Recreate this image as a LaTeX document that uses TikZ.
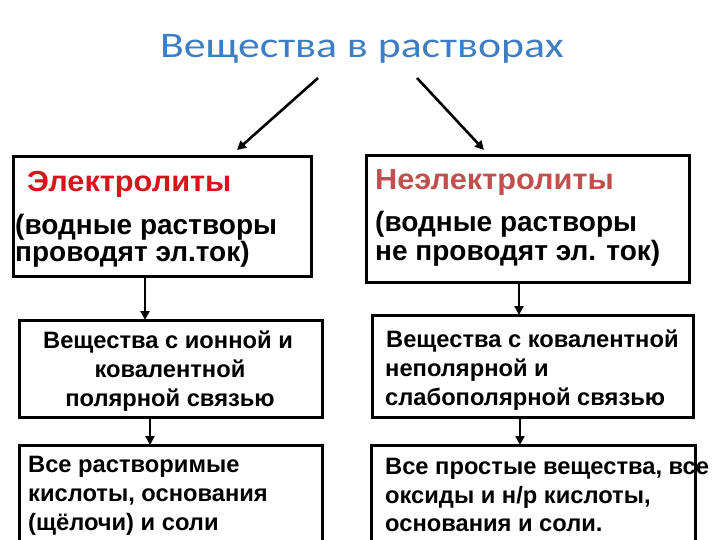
\documentclass[tikz,border=0pt]{standalone}
\usepackage{fontspec}
\setmainfont{Liberation Sans}
\newfontfamily\titlefont{Carlito}
\usetikzlibrary{arrows.meta}
\definecolor{titleblue}{HTML}{3C7DC4}
\definecolor{elred}{HTML}{D7141C}
\definecolor{nered}{HTML}{C0504D}
\tikzset{
  box/.style={draw=black, line width=3pt, inner sep=0pt, outer sep=0pt, fill=none},
  arr/.style={draw=black, line width=2.6pt, -{Triangle[length=9pt,width=9pt]}},
  head/.style={anchor=base west, inner sep=0pt, font=\bfseries\fontsize{29}{32}\selectfont},
  btxt/.style={anchor=base west, inner sep=0pt, font=\bfseries\fontsize{28}{30}\selectfont},
  txt/.style={anchor=base west, inner sep=0pt, font=\bfseries\fontsize{23.7}{28}\selectfont},
  ctxt/.style={anchor=base, inner sep=0pt, font=\bfseries\fontsize{23.7}{28}\selectfont}
}
\begin{document}
\begin{tikzpicture}[x=1pt,y=-1pt]
\useasboundingbox (0,0) rectangle (720,540);
% title
\node[anchor=base, inner sep=0pt, text=titleblue, font=\titlefont\fontsize{36}{40}\selectfont] (title) at (362,58) {\scalebox{1.215}[1]{Вещества в растворах}};
% boxes
\node[box, minimum width=298pt, minimum height=119pt] (b1) at (162,216.5) {};
\node[box, minimum width=323pt, minimum height=126pt] (b2) at (527.5,219) {};
\node[box, minimum width=303pt, minimum height=97pt] (b3) at (170.5,368.5) {};
\node[box, minimum width=321pt, minimum height=102pt] (b4) at (532.5,366) {};
\node[box, minimum width=303pt, minimum height=115pt] (b5) at (170.5,502.5) {};
\node[box, minimum width=324pt, minimum height=115pt] (b6) at (533,502.5) {};
% texts
\node[head, text=elred] (t1a) at (27,192) {\scalebox{1.06}[1]{Электролиты}};
\node[btxt] (t1b) at (15,235) {(водные растворы};
\node[btxt] (t1c) at (15,261) {проводят эл.ток)};
\node[head, text=nered] (t2a) at (375,190) {\scalebox{1.06}[1]{Неэлектролиты}};
\node[btxt] (t2b) at (375,231) {(водные растворы};
\node[btxt] (t2c) at (375,260) {не проводят эл. ток)};
\node[ctxt] (t3a) at (168,348) {Вещества с ионной и};
\node[ctxt] (t3b) at (170,377) {ковалентной};
\node[ctxt] (t3c) at (170,406) {полярной связью};
\node[txt] (t4a) at (386,347) {Вещества с ковалентной};
\node[txt] (t4b) at (385,376) {неполярной и};
\node[txt] (t4c) at (385,405) {слабополярной связью};
\node[txt] (t5a) at (28,472) {Все растворимые};
\node[txt] (t5b) at (28,501) {кислоты, основания};
\node[txt] (t5c) at (28,530) {(щёлочи) и соли};
\node[txt] (t6a) at (385,474) {Все простые вещества, все};
\node[txt] (t6b) at (385,503) {оксиды и н/р кислоты,};
\node[txt] (t6c) at (385,531) {основания и соли.};
% connectors
\draw[arr] ([xshift=-44pt,yshift=-20pt]title.base) -- ([xshift=75pt,yshift=7pt]b1.north);
\draw[arr] ([xshift=55pt,yshift=-20pt]title.base) -- ([xshift=-43.5pt,yshift=6pt]b2.north);
\draw[arr] ([xshift=-17pt]b1.south) -- ([xshift=-25.5pt]b3.north);
\draw[arr] ([xshift=-8.5pt]b2.south) -- ([xshift=-13.5pt]b4.north);
\draw[arr] ([xshift=-20.5pt]b3.south) -- ([xshift=-20.5pt]b5.north);
\draw[arr] ([xshift=-12.5pt]b4.south) -- ([xshift=-13pt]b6.north);
\end{tikzpicture}
\end{document}
